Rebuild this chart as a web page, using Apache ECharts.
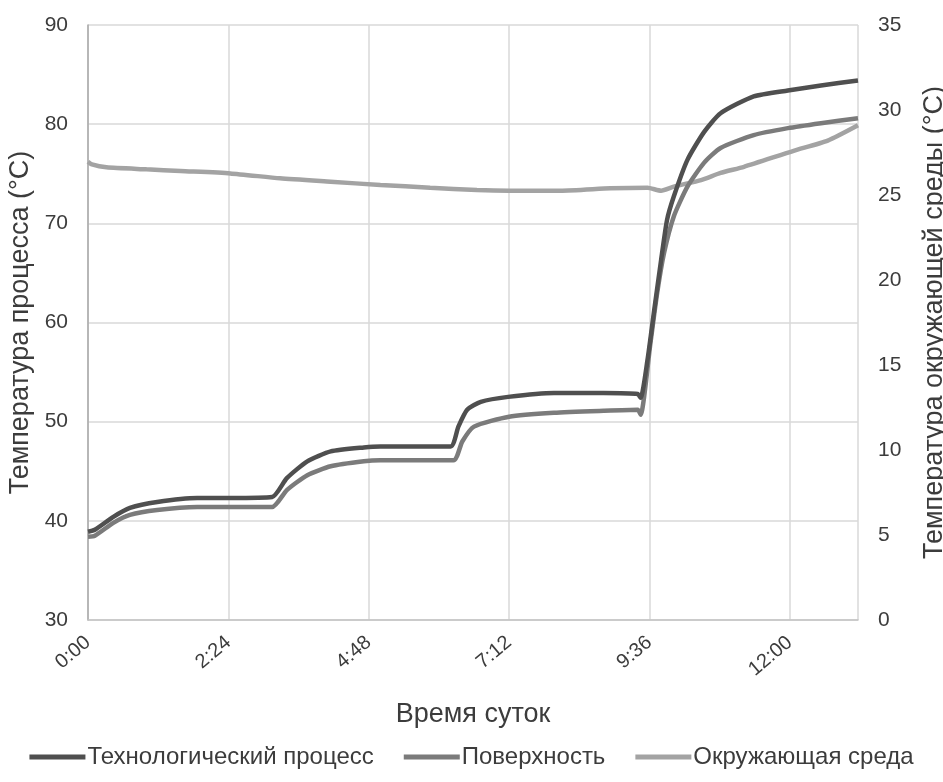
<!DOCTYPE html>
<html><head><meta charset="utf-8">
<script src="https://cdn.jsdelivr.net/npm/echarts@6/dist/echarts.min.js"></script>
<style>html,body{margin:0;padding:0;background:#fff}#c{width:943px;height:782px}</style>
</head><body><div id="c"></div>
<script>
// minutes from 0:00
const processTime = [0,7,26,43,71,112,146,189,204,225,249,283,300,372,380,389,403,431,478,529,564,567,574,581,588,594,601,615,632,649,683,718,752,790];
const processTemp = [38.9,39.1,40.4,41.3,41.9,42.3,42.3,42.4,44.3,46.0,47.0,47.4,47.5,47.5,49.5,51.2,52.0,52.5,52.9,52.9,52.8,52.4,56.2,61.3,66.3,70.3,72.7,76.4,79.2,81.1,82.8,83.4,83.9,84.4];
const surfaceTime = [0,7,26,43,71,112,146,189,204,225,249,283,300,375,384,396,432,478,529,564,567,577,584,591,601,615,632,649,683,718,752,790];
const surfaceTemp = [38.4,38.5,39.8,40.6,41.1,41.4,41.4,41.4,43.1,44.6,45.5,46.0,46.1,46.1,48.0,49.5,50.5,50.9,51.1,51.2,50.7,57.9,63.0,67.0,70.7,73.7,76.1,77.6,78.9,79.6,80.1,80.6];
const ambientTime = [0,4,19,60,95,146,197,249,300,351,399,432,485,536,574,588,601,629,649,673,724,759,790];
const ambientTemp = [26.96,26.8,26.63,26.51,26.41,26.27,25.98,25.78,25.59,25.43,25.29,25.25,25.25,25.39,25.43,25.25,25.49,25.88,26.3,26.66,27.6,28.2,29.1];
const seriesNames = ['Технологический процесс','Поверхность','Окружающая среда'];
const xTitle = 'Время суток';
const yLeftTitle = 'Температура процесса (°C)';
const yRightTitle = 'Температура окружающей среды (°C)';

const zip = (t, v) => t.map((x, i) => [x, v[i]]);
const FONT = '"Liberation Sans", Arial, sans-serif';
const TXT = '#3c3c3c';
const chart = echarts.init(document.getElementById('c'), null, {renderer: 'canvas'});
chart.setOption({
  animation: false,
  backgroundColor: '#fff',
  textStyle: {fontFamily: FONT},
  grid: {left: 88, right: 85, top: 25, bottom: 162, containLabel: false, outerBoundsMode: 'none'},
  legend: {
    bottom: 8, left: 'center', icon: 'rect', itemWidth: 56, itemHeight: 5, itemGap: 30,
    textStyle: {fontFamily: FONT, fontSize: 24, color: TXT, padding: [0, 0, 0, -3]},
    data: seriesNames
  },
  xAxis: {
    type: 'value', min: 0, max: 790, interval: 144,
    name: xTitle, nameLocation: 'middle', nameGap: 81,
    nameTextStyle: {fontFamily: FONT, fontSize: 27, color: TXT},
    axisLine: {show: true, lineStyle: {color: '#c4c4c4', width: 1.5}},
    axisTick: {show: false},
    axisLabel: {
      rotate: 40, margin: 20, fontSize: 20, color: TXT, fontFamily: FONT, showMaxLabel: false,
      formatter: v => (v % 144 === 0) ? Math.floor(v / 60) + ':' + String(v % 60).padStart(2, '0') : ''
    },
    splitLine: {show: true, lineStyle: {color: '#d8d8d8', width: 1.5}}
  },
  yAxis: [{
    type: 'value', min: 30, max: 90, interval: 10, position: 'left',
    name: yLeftTitle, nameLocation: 'middle', nameGap: 51, nameRotate: 90,
    nameTextStyle: {fontFamily: FONT, fontSize: 27, color: TXT},
    axisLine: {show: true, lineStyle: {color: '#a8a8a8', width: 1.5}},
    axisTick: {show: false},
    axisLabel: {margin: 20, fontSize: 21, color: TXT, fontFamily: FONT},
    splitLine: {show: true, lineStyle: {color: '#d8d8d8', width: 1.5}}
  }, {
    type: 'value', min: 0, max: 35, interval: 5, position: 'right',
    name: yRightTitle, nameLocation: 'middle', nameGap: 63, nameRotate: 90,
    nameTextStyle: {fontFamily: FONT, fontSize: 27, color: TXT},
    axisLine: {show: false}, axisTick: {show: false},
    axisLabel: {margin: 20, fontSize: 21, color: TXT, fontFamily: FONT},
    splitLine: {show: false}
  }],
  series: [
    {name: seriesNames[2], type: 'line', yAxisIndex: 1, data: zip(ambientTime, ambientTemp), showSymbol: false, smooth: 0.2,
     lineStyle: {color: '#a3a3a3', width: 4.5}, itemStyle: {color: '#a3a3a3'}, z: 2},
    {name: seriesNames[1], type: 'line', data: zip(surfaceTime, surfaceTemp), showSymbol: false, smooth: 0.2,
     lineStyle: {color: '#7b7b7b', width: 4.5}, itemStyle: {color: '#7b7b7b'}, z: 3},
    {name: seriesNames[0], type: 'line', data: zip(processTime, processTemp), showSymbol: false, smooth: 0.2,
     lineStyle: {color: '#4f4f4f', width: 4.5}, itemStyle: {color: '#4f4f4f'}, z: 4}
  ]
});
</script></body></html>
